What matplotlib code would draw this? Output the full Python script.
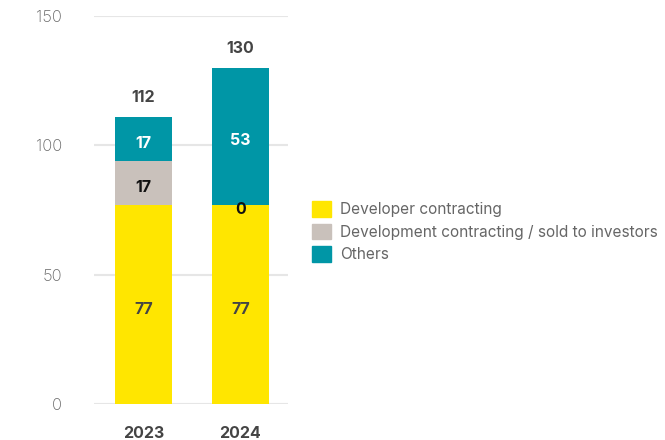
import matplotlib
matplotlib.use("Agg")
import matplotlib.pyplot as plt
from matplotlib.patches import Patch
import numpy as np

years = ["2023", "2024"]
developer = [77, 77]
sold_to_investors = [17, 0]
others = [17, 53]
totals = [112, 130]
series_names = [
    "Developer contracting",
    "Development contracting / sold to investors",
    "Others",
]

colors = ["#FFE600", "#C9C1BB", "#0096A6"]
label_colors = ["#444444", "#111111", "#FFFFFF"]

plt.rcParams["font.family"] = ["Inter", "DejaVu Sans"]

fig = plt.figure(figsize=(6.65, 4.4), dpi=100)
ax = fig.add_axes([94 / 665, 1 - 404 / 440, 194 / 665, 388 / 440])

x = np.arange(len(years))
width = 0.59
bottom = np.zeros(len(years))
for vals, col, lcol in zip([developer, sold_to_investors, others], colors, label_colors):
    vals = np.array(vals, dtype=float)
    ax.bar(x, vals, width, bottom=bottom, color=col, zorder=2)
    for xi, b, v in zip(x, bottom, vals):
        ax.text(xi, b + v / 2 - 1.8, f"{v:.0f}", ha="center", va="center",
                color=lcol, fontsize=11.5, fontweight="bold", zorder=3)
    bottom += vals

for xi, top, t in zip(x, bottom, totals):
    ax.text(xi, top + 7.5, str(t), ha="center", va="center",
            color="#444444", fontsize=11.5, fontweight="bold")

ax.set_xlim(-0.51, 1.49)
ax.set_ylim(0, 150)
ax.set_yticks([0, 50, 100, 150])
ax.set_xticks(x)
ax.set_xticklabels(years, fontweight="bold", color="#444444", fontsize=11.5)
ax.tick_params(axis="y", length=0, pad=23, labelcolor="#666666", labelsize=12)
ax.tick_params(axis="x", length=0, pad=16)
ax.grid(axis="y", color="#E6E6E6", linewidth=1.5, zorder=0)
for s in ax.spines.values():
    s.set_visible(False)
for lbl in ax.get_yticklabels():
    lbl.set_fontweight("light")

handles = [Patch(color=c) for c in colors]
fig.legend(handles, series_names, loc="upper left",
           bbox_to_anchor=(312 / 665, 1 - 201 / 440), frameon=False,
           fontsize=11.1, labelcolor="#666666", borderpad=0, borderaxespad=0,
           handlelength=1.2, handleheight=1.2, handletextpad=0.6,
           labelspacing=0.42)

fig.savefig("out.png", dpi=100)
